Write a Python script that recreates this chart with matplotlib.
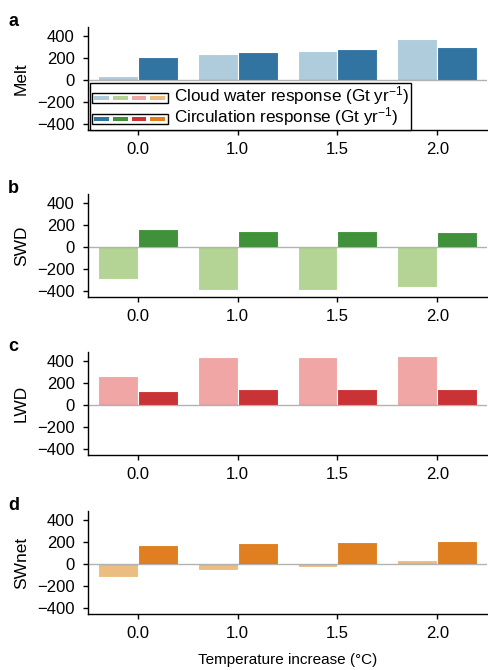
import matplotlib
matplotlib.use('Agg')
import matplotlib.pyplot as plt
from matplotlib.patches import Rectangle
import seaborn as sns
import numpy as np

plt.rcParams['font.family'] = ['Liberation Sans', 'DejaVu Sans']
plt.rcParams['mathtext.fontset'] = 'custom'
plt.rcParams['mathtext.rm'] = 'Liberation Sans'
plt.rcParams['mathtext.it'] = 'Liberation Sans:italic'

# 数据
temps = ['0.0', '1.0', '1.5', '2.0']
panel_letters = ['a', 'b', 'c', 'd']
panel_names = ['Melt', 'SWD', 'LWD', 'SWnet']
cloud_melt = [33, 234, 266, 374]
circ_melt = [212, 257, 278, 302]
cloud_swd = [-284, -391, -391, -358]
circ_swd = [161, 149, 149, 140]
cloud_lwd = [265, 433, 436, 445]
circ_lwd = [126, 147, 147, 150]
cloud_swnet = [-120, -51, -27, 36]
circ_swnet = [177, 195, 200, 213]

cloud_vals = [cloud_melt, cloud_swd, cloud_lwd, cloud_swnet]
circ_vals = [circ_melt, circ_swd, circ_lwd, circ_swnet]

paired = sns.color_palette('Paired', 8)
light_colors = [sns.desaturate(paired[i], 0.75) for i in (0, 2, 4, 6)]
dark_colors = [sns.desaturate(paired[i], 0.75) for i in (1, 3, 5, 7)]


class SwatchRow:
    def __init__(self, colors):
        self.colors = colors


class SwatchHandler:
    """图例：黑框内的四个色块"""
    def legend_artist(self, legend, orig_handle, fontsize, handlebox):
        x0, y0 = handlebox.xdescent, handlebox.ydescent
        w, h = handlebox.width, handlebox.height
        tr = handlebox.get_transform()
        box = Rectangle((x0, y0), w, h, facecolor='white',
                        edgecolor='black', lw=1.0, transform=tr)
        handlebox.add_artist(box)
        n = len(orig_handle.colors)
        pad = w * 0.035
        gap = w * 0.05
        sw = (w - 2 * pad - (n - 1) * gap) / n
        for k, c in enumerate(orig_handle.colors):
            r = Rectangle((x0 + pad + k * (sw + gap), y0 + h * 0.28), sw, h * 0.44,
                          facecolor=c, edgecolor='none', transform=tr)
            handlebox.add_artist(r)
        return box


fig = plt.figure(figsize=(4.88, 6.70), dpi=100)
bottoms = [0.806, 0.5567, 0.3209, 0.0836]
x = np.arange(len(temps))

for i in range(4):
    ax = fig.add_axes([0.1803, bottoms[i], 0.818, 0.1537])
    ax.bar(x - 0.2, cloud_vals[i], width=0.4, color=light_colors[i],
           edgecolor='white', linewidth=0.8, zorder=2)
    ax.bar(x + 0.2, circ_vals[i], width=0.4, color=dark_colors[i],
           edgecolor='white', linewidth=0.8, zorder=2)
    ax.axhline(0, color='0.25', alpha=0.4, lw=1.0, zorder=3)
    ax.set_xlim(-0.5, 3.5)
    ax.set_ylim(-450, 480)
    ax.set_xticks(x)
    ax.set_xticklabels(temps)
    ax.set_yticks([-400, -200, 0, 200, 400])
    ax.tick_params(labelsize=12, length=3.5, width=1, direction='out')
    ax.tick_params(axis='y', pad=6)
    ax.tick_params(axis='x', pad=5)
    for s in ['top', 'right']:
        ax.spines[s].set_visible(False)
    for s in ['left', 'bottom']:
        ax.spines[s].set_linewidth(1)
    ax.set_ylabel(panel_names[i], fontsize=12.5, labelpad=6)
    ax.text(-0.2, 1.05, panel_letters[i], transform=ax.transAxes,
            fontsize=13, fontweight='bold', va='center', ha='left')

    if i == 0:
        handles = [SwatchRow(light_colors), SwatchRow(dark_colors)]
        labels = ['Cloud water response (Gt yr$^{-1}$)',
                  'Circulation response (Gt yr$^{-1}$)']
        leg = ax.legend(handles, labels, handler_map={SwatchRow: SwatchHandler()},
                        loc='upper left', bbox_to_anchor=(0.005, 0.46),
                        borderaxespad=0, fontsize=12.3, handlelength=4.45,
                        handleheight=0.5, handletextpad=0.35, labelspacing=-0.12,
                        borderpad=0.1, fancybox=False, framealpha=1,
                        edgecolor='black')
        leg.get_frame().set_linewidth(1.0)
        leg.set_zorder(5)
    if i == 3:
        ax.set_xlabel('Temperature increase (°C)', fontsize=11, labelpad=9)

fig.savefig('out.png', dpi=100)
